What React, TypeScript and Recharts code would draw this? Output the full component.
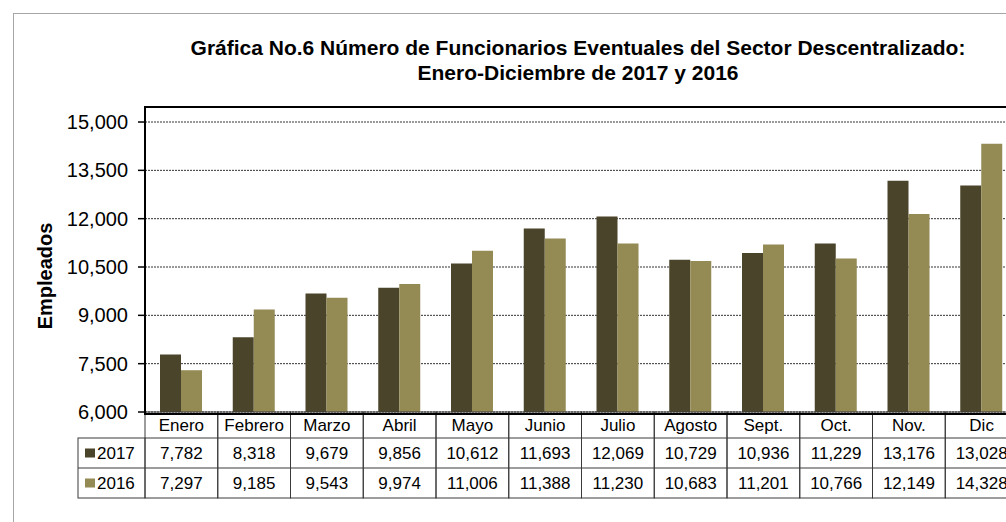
import { Bar, BarChart, CartesianGrid, XAxis, YAxis } from "recharts";

const months = ["Enero", "Febrero", "Marzo", "Abril", "Mayo", "Junio", "Julio", "Agosto", "Sept.", "Oct.", "Nov.", "Dic"];
const values2017 = [7782, 8318, 9679, 9856, 10612, 11693, 12069, 10729, 10936, 11229, 13176, 13028];
const values2016 = [7297, 9185, 9543, 9974, 11006, 11388, 11230, 10683, 11201, 10766, 12149, 14328];
const yTicks = [6000, 7500, 9000, 10500, 12000, 13500, 15000];

const COLOR_2017 = "#4a452a";
const COLOR_2016 = "#948a54";
const FONT = "'Liberation Sans', Arial, sans-serif";

const CHART_W = 1040;
const CHART_H = 522;
const PLOT_LEFT = 145;
const PLOT_RIGHT = 1018;
const PLOT_TOP = 107;
const PLOT_BOTTOM = 412;
const CAT_W = (PLOT_RIGHT - PLOT_LEFT) / months.length;

const data = months.map((month, i) => ({
  month,
  y2017: values2017[i],
  y2016: values2016[i],
}));

const fmt = (v: number) => v.toLocaleString("en-US");

const ROW1 = 26;
const ROW2 = 30;
const ROW3 = 30;
const LINE = "#3a3a3a";

function TableTick(props: any) {
  const { x, y, payload } = props;
  const i = payload.index ?? props.index ?? 0;
  const half = CAT_W / 2;
  const left = x - half;
  const total = ROW1 + ROW2 + ROW3;
  return (
    <g style={{ fontFamily: FONT }}>
      <rect x={left} y={y} width={CAT_W} height={total} fill="none" stroke={LINE} strokeWidth={1} />
      <line x1={left} x2={left + CAT_W} y1={y + ROW1} y2={y + ROW1} stroke={LINE} />
      <line x1={left} x2={left + CAT_W} y1={y + ROW1 + ROW2} y2={y + ROW1 + ROW2} stroke={LINE} />
      <text x={x} y={y + ROW1 / 2} dy="0.36em" textAnchor="middle" fontSize={17} fill="#000">
        {payload.value}
      </text>
      <text x={x} y={y + ROW1 + ROW2 / 2} dy="0.36em" textAnchor="middle" fontSize={17} fill="#000">
        {fmt(values2017[i])}
      </text>
      <text x={x} y={y + ROW1 + ROW2 + ROW3 / 2} dy="0.36em" textAnchor="middle" fontSize={17} fill="#000">
        {fmt(values2016[i])}
      </text>
      {i === 0 && (
        <g>
          <rect x={78} y={y + ROW1} width={left - 78} height={ROW2 + ROW3} fill="none" stroke={LINE} />
          <line x1={78} x2={left} y1={y + ROW1 + ROW2} y2={y + ROW1 + ROW2} stroke={LINE} />
          <rect x={85} y={y + ROW1 + ROW2 / 2 - 4.5} width={10} height={9} fill={COLOR_2017} />
          <text x={97} y={y + ROW1 + ROW2 / 2} dy="0.36em" fontSize={17} fill="#000">
            2017
          </text>
          <rect x={85} y={y + ROW1 + ROW2 + ROW3 / 2 - 4.5} width={10} height={9} fill={COLOR_2016} />
          <text x={97} y={y + ROW1 + ROW2 + ROW3 / 2} dy="0.36em" fontSize={17} fill="#000">
            2016
          </text>
        </g>
      )}
    </g>
  );
}

export default function App() {
  return (
    <div style={{ position: "absolute", left: 0, top: 0, width: 1006, height: 522, overflow: "hidden", background: "#fff", fontFamily: FONT }}>
      <div
        style={{
          position: "absolute",
          left: 13,
          top: 13,
          width: 1100,
          height: 600,
          border: "1.5px solid #a6a6a6",
        }}
      />
      <div
        style={{
          position: "absolute",
          left: 0,
          width: 1156,
          top: 35,
          textAlign: "center",
          fontWeight: "bold",
          fontSize: 21,
          lineHeight: "25px",
          color: "#000",
          whiteSpace: "nowrap",
        }}
      >
        Gráfica No.6 Número de Funcionarios Eventuales del Sector Descentralizado:
        <br />
        Enero-Diciembre de 2017 y 2016
      </div>
      <div
        style={{
          position: "absolute",
          left: 45,
          top: 276,
          transform: "translate(-50%, -50%) rotate(-90deg)",
          fontWeight: "bold",
          fontSize: 20,
          whiteSpace: "nowrap",
          color: "#000",
        }}
      >
        Empleados
      </div>
      <div style={{ position: "absolute", left: 0, top: 0 }}>
        <BarChart
          width={CHART_W}
          height={CHART_H}
          data={data}
          margin={{ top: PLOT_TOP, right: CHART_W - PLOT_RIGHT, bottom: 0, left: 0 }}
          barGap={0}
          barSize={21}
          style={{ fontFamily: FONT }}
        >
          <CartesianGrid vertical={false} stroke="#333" strokeDasharray="2 1" />
          <XAxis
            dataKey="month"
            height={CHART_H - PLOT_BOTTOM}
            axisLine={false}
            tickLine={false}
            tickSize={0}
            tickMargin={0}
            interval={0}
            tick={<TableTick />}
          />
          <YAxis
            width={PLOT_LEFT}
            domain={[6000, 15466]}
            ticks={yTicks}
            allowDataOverflow
            axisLine={false}
            tickLine={{ stroke: "#000", strokeWidth: 1.5 }}
            tickSize={7}
            tickMargin={10}
            tickFormatter={fmt}
            tick={{ fontSize: 20, fill: "#000" }}
          />
          <Bar dataKey="y2017" fill={COLOR_2017} isAnimationActive={false} />
          <Bar dataKey="y2016" fill={COLOR_2016} isAnimationActive={false} />
        </BarChart>
      </div>
      <div
        style={{
          position: "absolute",
          left: PLOT_LEFT - 1,
          top: PLOT_TOP - 1,
          width: PLOT_RIGHT - PLOT_LEFT,
          height: PLOT_BOTTOM - PLOT_TOP,
          border: "2px solid #000",
          pointerEvents: "none",
        }}
      />
    </div>
  );
}
